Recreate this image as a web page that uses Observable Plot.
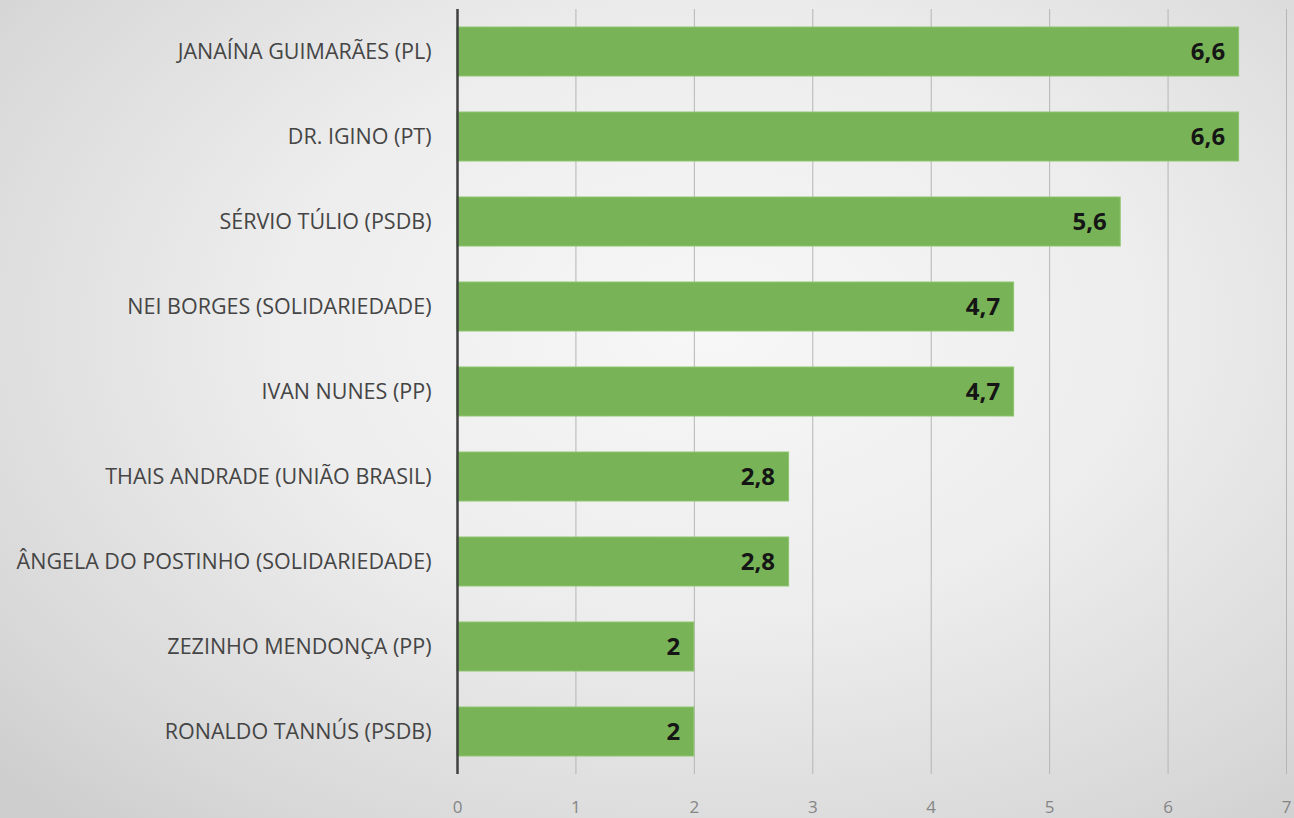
<!DOCTYPE html>
<html><head><meta charset="utf-8">
<script src="https://cdn.jsdelivr.net/npm/d3@7"></script>
<script src="https://cdn.jsdelivr.net/npm/@observablehq/plot@0.6"></script>
<style>
html,body{margin:0;padding:0;}
body{width:1294px;height:818px;overflow:hidden;
background: radial-gradient(ellipse 75% 80% at 55% 40%, #f7f7f7 0%, #ededed 45%, #d8d8d8 85%, #cecece 100%);}
#chart svg{background:transparent;display:block;overflow:visible;}
</style></head>
<body><div id="chart"></div>
<script>
const candidates = [
  "JANAÍNA GUIMARÃES (PL)",
  "DR. IGINO (PT)",
  "SÉRVIO TÚLIO (PSDB)",
  "NEI BORGES (SOLIDARIEDADE)",
  "IVAN NUNES (PP)",
  "THAIS ANDRADE (UNIÃO BRASIL)",
  "ÂNGELA DO POSTINHO (SOLIDARIEDADE)",
  "ZEZINHO MENDONÇA (PP)",
  "RONALDO TANNÚS (PSDB)"
];
const values = [6.6, 6.6, 5.6, 4.7, 4.7, 2.8, 2.8, 2, 2];
const xTicks = [0,1,2,3,4,5,6,7];
const data = candidates.map((c,i)=>({name:c, value:values[i]}));
const fmt = v => String(v).replace(".", ",");

const chart = Plot.plot({
  width: 1294,
  height: 818,
  marginLeft: 457,
  marginRight: 8,
  marginTop: 9,
  marginBottom: 44,
  style: {fontFamily: "'Open Sans', sans-serif", background: "transparent"},
  x: {domain: [0,7], ticks: xTicks, label: null},
  y: {domain: candidates, paddingInner: 0.42, paddingOuter: 0.21, label: null},
  marks: [
    Plot.ruleX(xTicks.slice(1), {stroke: "#b5b5b5", strokeWidth: 1}),
    Plot.barX(data, {y: "name", x: "value", fill: "#78b457", stroke: "#8dc56e", strokeWidth: 1}),
    Plot.text(data, {y: "name", x: "value", text: d => fmt(d.value), textAnchor: "end", dx: -14,
      fontWeight: "bold", fontSize: 24, fill: "#151515"}),
    Plot.ruleX([0], {stroke: "#404040", strokeWidth: 2.5}),
    Plot.axisX({ticks: xTicks, tickFormat: d => String(d), tickSize: 0, tickPadding: 26, fontSize: 17, color: "#858585", label: null}),
    Plot.axisY({tickSize: 0, tickPadding: 26, fontSize: 21.5, color: "#454545", label: null})
  ]
});
document.getElementById("chart").appendChild(chart);
</script></body></html>
